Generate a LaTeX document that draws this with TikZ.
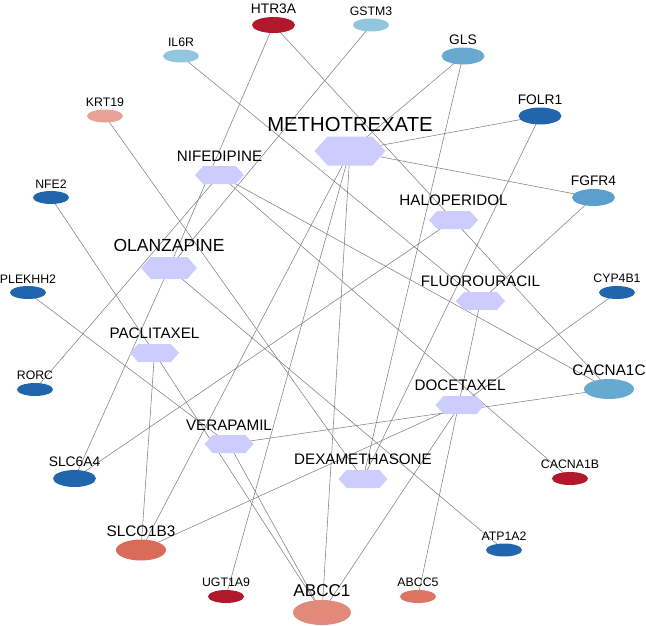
\documentclass[tikz,border=0pt]{standalone}
\usepackage{fontspec}
\setmainfont{Liberation Sans}
\usetikzlibrary{shapes.geometric}
\pgfdeclarelayer{bg}
\pgfsetlayers{bg,main}
\definecolor{drugfill}{HTML}{CCCCFF}
\definecolor{dred}{HTML}{B2182B}
\definecolor{dblue}{HTML}{2166AC}
\definecolor{lblue}{HTML}{92C5DE}
\definecolor{mblue}{HTML}{67A9CF}
\definecolor{mblueb}{HTML}{5B9FCC}
\definecolor{pinkred}{HTML}{E8A298}
\definecolor{salmon}{HTML}{D96B5A}
\definecolor{salmonb}{HTML}{DC7564}
\definecolor{salmonc}{HTML}{E18A7C}
\definecolor{edgegray}{HTML}{808080}
\tikzset{
  drugbox/.style={shape=rectangle, inner sep=0pt, outer sep=0pt},
  genebox/.style={shape=ellipse, inner sep=0pt, outer sep=0pt, draw=none},
  lbl/.style={inner sep=0pt, outer sep=0pt, text=black},
  edge/.style={draw=edgegray, line width=0.55pt},
}
% name, position, width, height, font size, text
\newcommand\drugnode[6]{%
  \node[drugbox, minimum width=#3, minimum height=#4] (#1) at (#2) {};
  \fill[drugfill] (#1.west) -- ([xshift=0.45*#4]#1.north west) -- ([xshift=-0.45*#4]#1.north east)
    -- (#1.east) -- ([xshift=-0.45*#4]#1.south east) -- ([xshift=0.45*#4]#1.south west) -- cycle;
  \node[lbl, font=\fontsize{#5}{#5}\selectfont, anchor=south] (#1l) at ([yshift=5pt]#1.north) {#6};
}
% name, position, width, height, colour, font size, text
\newcommand\genenode[7]{%
  \node[genebox, minimum width=#3, minimum height=#4, fill=#5] (#1) at (#2) {};
  \node[lbl, font=\fontsize{#6}{#6}\selectfont, anchor=south] (#1l) at ([yshift=3pt]#1.north) {#7};
}
\begin{document}
\begin{tikzpicture}[x=1pt, y=-1pt]
\useasboundingbox (0,0) rectangle (646,625);
% drugs
\drugnode{MTX}{350,151}{71}{29}{20.3}{METHOTREXATE}
\drugnode{NIF}{219.5,175}{49}{18}{15.2}{NIFEDIPINE}
\drugnode{HAL}{453.5,220}{49}{18}{15.2}{HALOPERIDOL}
\drugnode{OLZ}{169,268}{56}{22}{17.5}{OLANZAPINE}
\drugnode{FLU}{480.5,301}{49}{18}{15.2}{FLUOROURACIL}
\drugnode{PAC}{154.5,353}{49}{18}{15.2}{PACLITAXEL}
\drugnode{DOC}{460,405}{49}{18}{15.2}{DOCETAXEL}
\drugnode{VER}{229,444}{49}{18}{15.2}{VERAPAMIL}
\drugnode{DEX}{363,479}{49}{18}{15.2}{DEXAMETHASONE}
% genes
\genenode{HTR3A}{273.5,25}{43}{16}{dred}{13.8}{HTR3A}
\genenode{GSTM3}{371,25}{36}{13}{lblue}{12.3}{GSTM3}
\genenode{IL6R}{181,56}{36}{13}{lblue}{12.3}{IL6R}
\genenode{GLS}{463,56}{43}{17}{mblue}{13.8}{GLS}
\genenode{KRT19}{105,116}{36}{13}{pinkred}{12.3}{KRT19}
\genenode{FOLR1}{540,116}{43}{17}{dblue}{13.8}{FOLR1}
\genenode{NFE2}{51,197.5}{36}{13}{dblue}{12.3}{NFE2}
\genenode{FGFR4}{593.5,197.5}{43}{17}{mblueb}{13.8}{FGFR4}
\genenode{PLEKHH2}{28,292.5}{36}{13}{dblue}{12.3}{PLEKHH2}
\genenode{CYP4B1}{617,292.5}{36}{13}{dblue}{12.3}{CYP4B1}
\genenode{RORC}{35,389.5}{36}{13}{dblue}{12.3}{RORC}
\genenode{CACNA1C}{609,389}{50}{20}{mblue}{15.3}{CACNA1C}
\genenode{SLC6A4}{74.5,478.5}{43}{17}{dblue}{13.8}{SLC6A4}
\genenode{CACNA1B}{570,478.5}{36}{13}{dred}{12.3}{CACNA1B}
\genenode{SLCO1B3}{141,550}{50}{21}{salmon}{15.3}{SLCO1B3}
\genenode{ATP1A2}{504,550}{36}{13}{dblue}{12.3}{ATP1A2}
\genenode{UGT1A9}{226,596.5}{36}{13}{dred}{12.3}{UGT1A9}
\genenode{ABCC1}{322,612.5}{58}{25}{salmonc}{17.1}{ABCC1}
\genenode{ABCC5}{418,596.5}{36}{13}{salmonb}{12.3}{ABCC5}
% edges
\begin{pgfonlayer}{bg}
\foreach \a/\b in {MTX/GLS, MTX/FOLR1, MTX/FGFR4, MTX/SLCO1B3, MTX/UGT1A9, MTX/ABCC1,
  OLZ/HTR3A, OLZ/GSTM3, OLZ/ATP1A2, OLZ/SLC6A4,
  NIF/RORC, NIF/CACNA1C, NIF/CACNA1B,
  HAL/HTR3A, HAL/SLC6A4, HAL/CACNA1C,
  FLU/IL6R, FLU/FGFR4, FLU/ABCC5,
  PAC/NFE2, PAC/SLCO1B3, PAC/ABCC1,
  DOC/CYP4B1, DOC/SLCO1B3, DOC/ABCC1,
  VER/PLEKHH2, VER/CACNA1C, VER/ABCC1,
  DEX/KRT19, DEX/GLS, DEX/FOLR1}
  \draw[edge] (\a.center) -- (\b.center);
\end{pgfonlayer}
\end{tikzpicture}
\end{document}
